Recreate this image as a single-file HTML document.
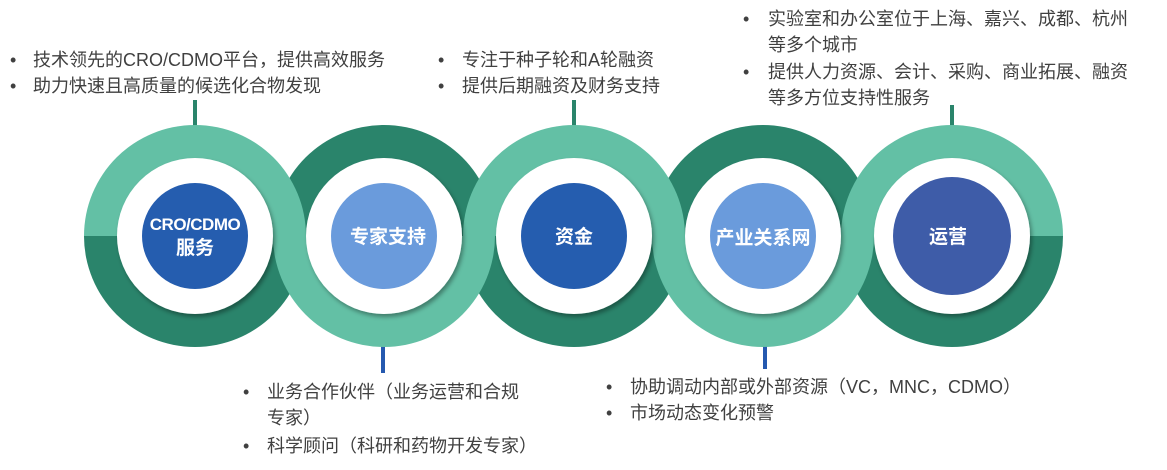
<!DOCTYPE html>
<html><head><meta charset="utf-8"><style>
html,body{margin:0;padding:0;background:#fff;}
svg text{font-family:"Liberation Sans","Noto Sans CJK SC",sans-serif;}
.t{font-size:18px;fill:#404040;}
.w{fill:#fff;font-weight:bold;font-size:19px;}
</style></head><body>
<svg width="1167" height="465" viewBox="0 0 1167 465" xmlns="http://www.w3.org/2000/svg">
<defs>
<filter id="sh" x="-20%" y="-20%" width="140%" height="140%"><feDropShadow dx="2" dy="3" stdDeviation="2" flood-color="#000" flood-opacity="0.35"/></filter>
</defs>
<rect x="193" y="100" width="4" height="26" fill="#2a846b"/>
<rect x="572" y="100" width="4" height="26" fill="#2a846b"/>
<rect x="950" y="105" width="4" height="26" fill="#2a846b"/>
<rect x="381" y="346" width="4" height="27" fill="#2559af"/>
<rect x="763" y="346" width="4" height="23" fill="#2559af"/>
<path d="M84,236 A111,111 0 0 0 306,236 Z" fill="#2a846b"/>
<path d="M273,236 A111,111 0 0 1 495,236 Z" fill="#2a846b"/>
<path d="M463,236 A111,111 0 0 0 685,236 Z" fill="#2a846b"/>
<path d="M652,236 A111,111 0 0 1 874,236 Z" fill="#2a846b"/>
<path d="M841,236 A111,111 0 0 0 1063,236 Z" fill="#2a846b"/>
<path d="M84,236 A111,111 0 0 1 306,236 Z" fill="#63c0a5"/>
<path d="M273,236 A111,111 0 0 0 495,236 Z" fill="#63c0a5"/>
<path d="M463,236 A111,111 0 0 1 685,236 Z" fill="#63c0a5"/>
<path d="M652,236 A111,111 0 0 0 874,236 Z" fill="#63c0a5"/>
<path d="M841,236 A111,111 0 0 1 1063,236 Z" fill="#63c0a5"/>
<g fill="#fff" filter="url(#sh)">
<circle cx="195" cy="236" r="78"/>
<circle cx="384" cy="236" r="78"/>
<circle cx="574" cy="236" r="78"/>
<circle cx="763" cy="236" r="78"/>
<circle cx="952" cy="236" r="78"/>
</g>
<circle cx="195" cy="236" r="53" fill="#255daf"/>
<circle cx="384" cy="236" r="53" fill="#6a9bdc"/>
<circle cx="574" cy="236" r="53" fill="#255daf"/>
<circle cx="763" cy="236" r="53" fill="#6a9bdc"/>
<circle cx="952" cy="236" r="59" fill="#3e5ca8"/>
<text class="w" x="195" y="230" text-anchor="middle" style="font-size:17px;letter-spacing:-0.5px">CRO/CDMO</text>
<text class="w" x="195" y="254" text-anchor="middle">服务</text>
<text class="w" x="388" y="243" text-anchor="middle">专家支持</text>
<text class="w" x="574" y="243" text-anchor="middle">资金</text>
<text class="w" x="763" y="244" text-anchor="middle">产业关系网</text>
<text class="w" x="948" y="243" text-anchor="middle">运营</text>
<g class="t">
<text x="10" y="66">•</text><text x="33" y="66">技术领先的CRO/CDMO平台，提供高效服务</text>
<text x="10" y="92">•</text><text x="33" y="92">助力快速且高质量的候选化合物发现</text>
<text x="438" y="66">•</text><text x="462" y="66">专注于种子轮和A轮融资</text>
<text x="438" y="92">•</text><text x="462" y="92">提供后期融资及财务支持</text>
<text x="743" y="25">•</text><text x="768" y="25">实验室和办公室位于上海、嘉兴、成都、杭州</text>
<text x="768" y="51">等多个城市</text>
<text x="743" y="78">•</text><text x="768" y="78">提供人力资源、会计、采购、商业拓展、融资</text>
<text x="768" y="104">等多方位支持性服务</text>
<text x="243" y="398">•</text><text x="267" y="398">业务合作伙伴（业务运营和合规</text>
<text x="267" y="424">专家）</text>
<text x="243" y="452">•</text><text x="267" y="452">科学顾问（科研和药物开发专家）</text>
<text x="606" y="393">•</text><text x="630" y="393">协助调动内部或外部资源（VC，MNC，CDMO）</text>
<text x="606" y="419">•</text><text x="630" y="419">市场动态变化预警</text>
</g>
</svg>
</body></html>
